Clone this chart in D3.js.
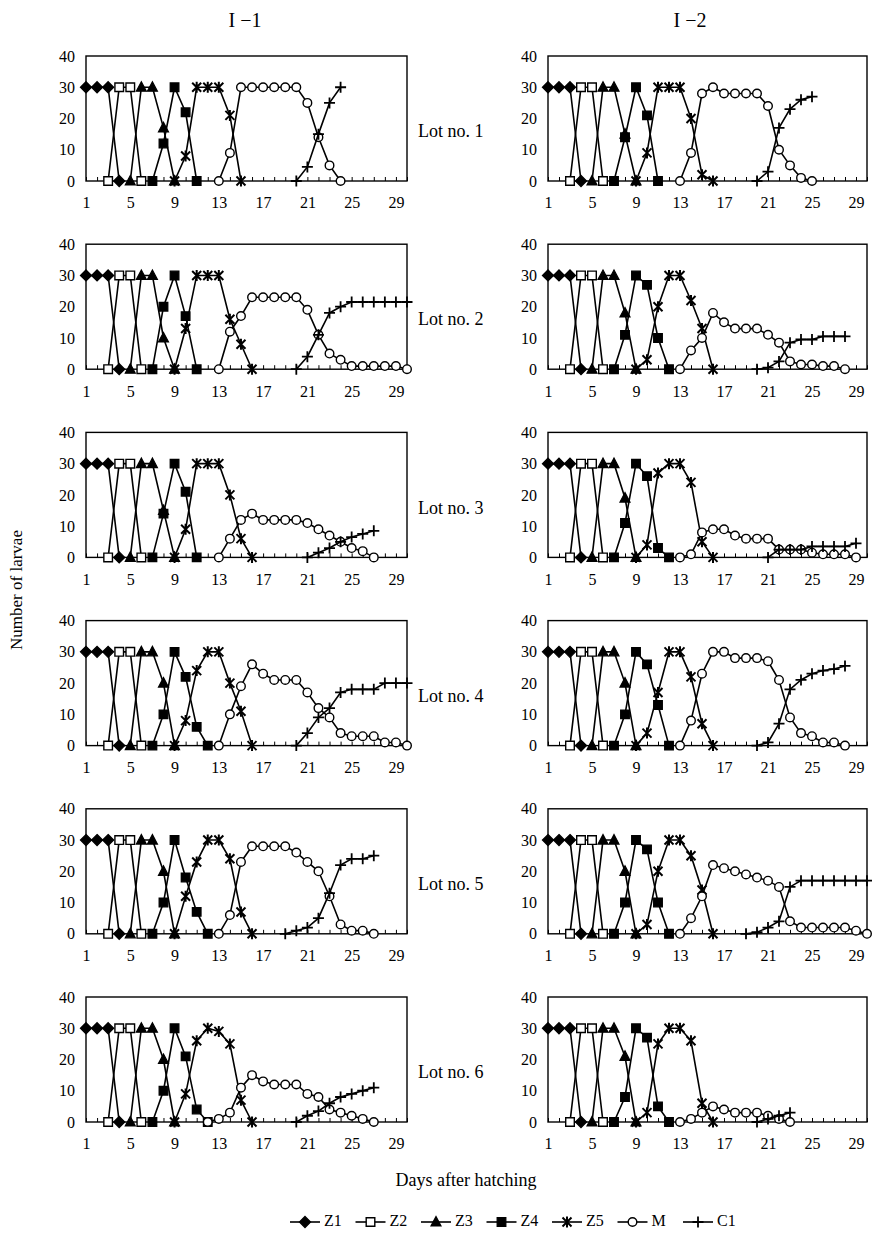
<!DOCTYPE html>
<html>
<head>
<meta charset="utf-8">
<script src="https://cdn.jsdelivr.net/npm/d3@7"></script>
<style>
  body { margin: 0; background: #fff; }
  svg text { font-family: "Liberation Serif", "Times New Roman", serif; fill: #000; }
</style>
</head>
<body>
<div id="chart"></div>
<script>
// series / panel labels
const seriesNames = ["Z1", "Z2", "Z3", "Z4", "Z5", "M", "C1"];
const groups = ["I \u22121", "I \u22122"];
const lots = ["Lot no. 1", "Lot no. 2", "Lot no. 3", "Lot no. 4", "Lot no. 5", "Lot no. 6"];
const dayTicks = [1, 5, 9, 13, 17, 21, 25, 29];
const yTicks = [0, 10, 20, 30, 40];

// each entry is [first day, values for consecutive days]
// order: lot1 I-1, lot1 I-2, lot2 I-1, lot2 I-2, ... lot6 I-2
const Z1 = [
  [1, [30, 30, 30, 0]], [1, [30, 30, 30, 0]],
  [1, [30, 30, 30, 0]], [1, [30, 30, 30, 0]],
  [1, [30, 30, 30, 0]], [1, [30, 30, 30, 0]],
  [1, [30, 30, 30, 0]], [1, [30, 30, 30, 0]],
  [1, [30, 30, 30, 0]], [1, [30, 30, 30, 0]],
  [1, [30, 30, 30, 0]], [1, [30, 30, 30, 0]]
];
const Z2 = [
  [3, [0, 30, 30, 0]], [3, [0, 30, 30, 0]],
  [3, [0, 30, 30, 0]], [3, [0, 30, 30, 0]],
  [3, [0, 30, 30, 0]], [3, [0, 30, 30, 0]],
  [3, [0, 30, 30, 0]], [3, [0, 30, 30, 0]],
  [3, [0, 30, 30, 0]], [3, [0, 30, 30, 0]],
  [3, [0, 30, 30, 0]], [3, [0, 30, 30, 0]]
];
const Z3 = [
  [5, [0, 30, 30, 17, 0]], [5, [0, 30, 30, 15, 0]],
  [5, [0, 30, 30, 10, 0]], [5, [0, 30, 30, 18, 0]],
  [5, [0, 30, 30, 15, 0]], [5, [0, 30, 30, 19, 0]],
  [5, [0, 30, 30, 20, 0]], [5, [0, 30, 30, 20, 0]],
  [5, [0, 30, 30, 20, 0]], [5, [0, 30, 30, 20, 0]],
  [5, [0, 30, 30, 20, 0]], [5, [0, 30, 30, 21, 0]]
];
const Z4 = [
  [7, [0, 12, 30, 22, 0]], [7, [0, 14, 30, 21, 0]],
  [7, [0, 20, 30, 17, 0]], [7, [0, 11, 30, 27, 10, 0]],
  [7, [0, 14, 30, 21, 0]], [7, [0, 11, 30, 26, 3, 0]],
  [7, [0, 10, 30, 22, 6, 0]], [7, [0, 10, 30, 26, 13, 0]],
  [7, [0, 10, 30, 18, 7, 0]], [7, [0, 10, 30, 27, 10, 0]],
  [7, [0, 10, 30, 21, 4, 0]], [7, [0, 8, 30, 27, 5, 0]]
];
const Z5 = [
  [9, [0, 8, 30, 30, 30, 21, 0]], [9, [0, 9, 30, 30, 30, 20, 2, 0]],
  [9, [0, 13, 30, 30, 30, 16, 8, 0]], [9, [0, 3, 20, 30, 30, 22, 13, 0]],
  [9, [0, 9, 30, 30, 30, 20, 6, 0]], [9, [0, 4, 27, 30, 30, 24, 5, 0]],
  [9, [0, 8, 24, 30, 30, 20, 11, 0]], [9, [0, 4, 17, 30, 30, 22, 7, 0]],
  [9, [0, 12, 23, 30, 30, 24, 7, 0]], [9, [0, 3, 20, 30, 30, 25, 14, 0]],
  [9, [0, 9, 26, 30, 29, 25, 7, 0]], [9, [0, 3, 25, 30, 30, 26, 6, 0]]
];
const M = [
  [13, [0, 9, 30, 30, 30, 30, 30, 30, 25, 14, 5, 0]],
  [13, [0, 9, 28, 30, 28, 28, 28, 28, 24, 10, 5, 1, 0]],
  [13, [0, 12, 17, 23, 23, 23, 23, 23, 19, 11, 5, 3, 1, 1, 1, 1, 1, 0]],
  [13, [0, 6, 10, 18, 15, 13, 13, 13, 11, 8.5, 2.5, 1.5, 1.5, 1, 1, 0]],
  [13, [0, 6, 12, 14, 12, 12, 12, 12, 11, 9, 7, 5, 3, 2, 0]],
  [13, [0, 1, 8, 9, 9, 7, 6, 6, 6, 2.5, 2.5, 2.5, 1.5, 1, 1, 1, 0]],
  [13, [0, 10, 19, 26, 23, 21, 21, 21, 17, 12, 9, 4, 3, 3, 3, 1, 1, 0]],
  [13, [0, 8, 23, 30, 30, 28, 28, 28, 27, 21, 9, 4, 3, 1, 1, 0]],
  [13, [0, 6, 23, 28, 28, 28, 28, 26, 23, 20, 12, 3, 1, 1, 0]],
  [13, [0, 5, 12, 22, 21, 20, 19, 18, 17, 15, 4, 2, 2, 2, 2, 2, 1, 0]],
  [12, [0, 1, 3, 11, 15, 13, 12, 12, 12, 9, 8, 4, 3, 2, 1, 0]],
  [13, [0, 1, 3, 5, 4, 3, 3, 3, 2, 1, 0]]
];
const C1 = [
  [20, [0, 4.5, 15, 25, 30]],
  [20, [0, 3, 17, 23, 26, 27]],
  [20, [0, 4, 11, 18, 20, 21.5, 21.5, 21.5, 21.5, 21.5, 21.5]],
  [20, [0, 0.5, 2.5, 8.5, 9.5, 9.5, 10.5, 10.5, 10.5]],
  [21, [0, 1.5, 3, 5, 6.5, 7.5, 8.5]],
  [21, [0, 2.5, 2.5, 2.5, 3.5, 3.5, 3.5, 3.5, 4.5]],
  [20, [0, 4, 9, 12, 17, 18, 18, 18, 20, 20, 20]],
  [20, [0, 1, 7, 18, 21, 23, 24, 24.5, 25.5]],
  [19, [0, 1, 2, 5, 13, 22, 24, 24, 25]],
  [19, [0, 0.5, 2, 4, 15, 17, 17, 17, 17, 17, 17, 17]],
  [20, [0, 2, 3.5, 6, 8, 9, 10, 11]],
  [20, [0, 1, 2, 3]]
];

const seriesData = [Z1, Z2, Z3, Z4, Z5, M, C1];

// marker shapes
const markers = {
  Z1: { d: "M0,-5.5L5.5,0L0,5.5L-5.5,0Z", fill: "#000", sw: 1.3 },
  Z2: { d: "M-4.3,-4.3H4.3V4.3H-4.3Z", fill: "#fff", sw: 1.4 },
  Z3: { d: "M0,-5.5L5,4L-5,4Z", fill: "#000", sw: 1.2 },
  Z4: { d: "M-4.3,-4.3H4.3V4.3H-4.3Z", fill: "#000", sw: 1.3 },
  Z5: { d: "M-4.5,-4.5L4.5,4.5M-4.5,4.5L4.5,-4.5M0,-5.5V5.5", fill: "none", sw: 2 },
  M:  { d: "M4.3,0A4.3,4.3 0 1,1 -4.3,0A4.3,4.3 0 1,1 4.3,0Z", fill: "#fff", sw: 1.4 },
  C1: { d: "M-5.5,0H5.5M0,-5.5V5.5", fill: "none", sw: 1.8 }
};

const width = 872, height = 1234;
const svg = d3.select("#chart").append("svg")
    .attr("width", width)
    .attr("height", height);

const colRange = [[86, 407], [548, 867]];
const rowTop = 56, rowStep = 188.2, plotH = 125;

const y = d3.scaleLinear().domain([0, 40]).range([plotH, 0]);
const line = (xs) => d3.line().x(d => xs(d[0])).y(d => y(d[1]));

// column titles
groups.forEach((g, i) => {
    svg.append("text")
        .attr("x", i === 0 ? 245 : 690)
        .attr("y", 27)
        .attr("text-anchor", "middle")
        .attr("font-size", "20px")
        .text(g);
});

for (let p = 0; p < 12; p++) {
    const lot = Math.floor(p / 2), col = p % 2;
    const xs = d3.scaleLinear().domain([1, 30]).range(colRange[col]);
    const g = svg.append("g").attr("transform", `translate(0,${rowTop + lot * rowStep})`);

    // y tick labels
    g.append("g")
        .attr("transform", `translate(${colRange[col][0]},0)`)
        .call(d3.axisLeft(y).tickValues(yTicks).tickSize(0).tickPadding(11))
        .call(a => a.select(".domain").remove())
        .selectAll("text")
        .attr("font-size", "16px")
        .attr("font-family", "Liberation Serif");

    // x tick labels
    g.append("g")
        .attr("transform", `translate(0,${plotH})`)
        .call(d3.axisBottom(xs).tickValues(dayTicks).tickSize(0).tickPadding(16))
        .call(a => a.select(".domain").remove())
        .selectAll("text")
        .attr("font-size", "16px")
        .attr("font-family", "Liberation Serif");

    // minor day ticks
    g.append("g")
        .attr("transform", `translate(0,${plotH})`)
        .call(d3.axisBottom(xs).tickValues(d3.range(1, 31)).tickSize(-4).tickFormat(""))
        .call(a => a.select(".domain").remove())
        .selectAll("line")
        .attr("stroke", "#000");

    // frame
    g.append("rect")
        .attr("x", colRange[col][0])
        .attr("y", 0)
        .attr("width", colRange[col][1] - colRange[col][0])
        .attr("height", plotH)
        .attr("fill", "none")
        .attr("stroke", "#000")
        .attr("stroke-width", 1.4);

    // series
    seriesNames.forEach((name, si) => {
        const [start, vals] = seriesData[si][p];
        const pts = vals.map((v, i) => [start + i, v]);
        const sg = g.append("g");
        sg.append("path")
            .datum(pts)
            .attr("d", line(xs))
            .attr("fill", "none")
            .attr("stroke", "#000")
            .attr("stroke-width", 1.6);
        sg.selectAll("path.mk")
            .data(pts)
            .join("path")
            .attr("class", "mk")
            .attr("transform", d => `translate(${xs(d[0])},${y(d[1])})`)
            .attr("d", markers[name].d)
            .attr("fill", markers[name].fill)
            .attr("stroke", "#000")
            .attr("stroke-width", markers[name].sw);
    });

    if (col === 0) {
        g.append("text")
            .attr("x", 418)
            .attr("y", 77)
            .attr("dominant-baseline", "middle")
            .attr("font-size", "18px")
            .text(lots[lot]);
    }
}

// axis titles
svg.append("text")
    .attr("transform", "translate(22,590) rotate(-90)")
    .attr("text-anchor", "middle")
    .attr("font-size", "17px")
    .text("Number of larvae");

svg.append("text")
    .attr("x", 466)
    .attr("y", 1186)
    .attr("text-anchor", "middle")
    .attr("font-size", "18px")
    .text("Days after hatching");

// legend
const legend = svg.append("g").attr("transform", "translate(290,1222)");
seriesNames.forEach((name, i) => {
    const lg = legend.append("g").attr("transform", `translate(${i * 65.5},0)`);
    lg.append("line")
        .attr("x1", 0).attr("x2", 30)
        .attr("stroke", "#000")
        .attr("stroke-width", 1.6);
    lg.append("path")
        .attr("transform", "translate(15,0)")
        .attr("d", markers[name].d)
        .attr("fill", markers[name].fill)
        .attr("stroke", "#000")
        .attr("stroke-width", markers[name].sw);
    lg.append("text")
        .attr("x", 34)
        .attr("dominant-baseline", "middle")
        .attr("font-size", "16px")
        .text(name);
});
</script>
</body>
</html>
